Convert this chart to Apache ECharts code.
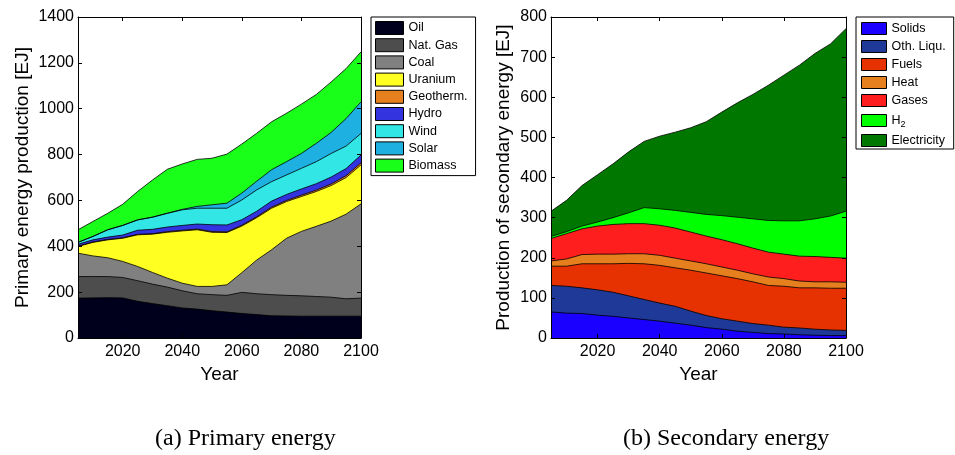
<!DOCTYPE html>
<html>
<head>
<meta charset="utf-8">
<script src="https://cdn.jsdelivr.net/npm/echarts@6/dist/echarts.min.js"></script>
<style>
  html, body { margin: 0; padding: 0; background: #fff; }
  #chart { width: 955px; height: 455px; }
</style>
</head>
<body>
<div id="chart"></div>
<script>
// Years of the scenario
const years = [2005, 2010, 2015, 2020, 2025, 2030, 2035, 2040, 2045, 2050,
               2055, 2060, 2065, 2070, 2075, 2080, 2085, 2090, 2095, 2100];
const yearTicks = [2020, 2040, 2060, 2080, 2100];

// (a) Primary energy production by source [EJ]
const oil      = [174,175,176,175,160,150,141,131,126,119,113,107,102, 97, 96, 95, 95, 95, 95, 95];
const natGas   = [ 94, 93, 92, 89, 90, 85, 81, 75, 67, 70, 73, 92, 91, 92, 90, 89, 86, 83, 76, 79];
const coal     = [102, 90, 82, 70, 62, 51, 39, 33, 32, 36, 46, 86,147,196,249,281,306,332,369,411];
const uranium  = [ 29, 59, 78,101,138,167,200,228,247,236,228,203,185,181,160,152,152,155,160,170];
const geotherm = [  2,  2,  2,  2,  2,  2,  3,  3,  3,  3,  3,  4,  4,  5,  5,  6,  6,  7,  8,  9];
const hydro    = [  8,  9, 10, 12, 18, 19, 20, 21, 22, 30, 30, 24, 24, 26, 26, 27, 28, 30, 31, 34];
const wind     = [  8, 15, 32, 42, 45, 53, 60, 68, 69, 72, 73, 86, 93, 85, 85, 90, 96,103, 98, 94];
const solar    = [  0,  0,  0,  0,  0,  0,  0,  2,  8, 15, 22, 30, 38, 52, 58, 65, 80, 92,120,138];
const biomass  = [ 55, 65, 72, 92,124,162,192,198,205,203,214,214,209,209,211,215,213,220,218,218];

// (b) Secondary energy production by carrier [EJ]
const solids      = [65,62,61,57,54,50,46,42,37,32,26,22,17,14,11,10, 8, 7, 6, 6];
const othLiqu     = [66,67,64,63,60,55,50,45,42,35,30,26,25,22,21,17,17,15,14,13];
const fuels       = [48,50,60,65,71,81,89,94,96,102,106,107,106,104,99,102,100,103,104,105];
const heat        = [13,18,23,24,24,24,25,25,24,23,23,22,21,20,21,19,17,15,16,15];
const gases       = [56,63,64,70,74,75,75,75,75,72,69,68,66,64,62,61,62,63,61,60];
const h2          = [ 5, 5, 7,10,17,27,40,41,44,49,54,60,66,73,79,83,88,94,103,117];
const electricity = [63,78,101,118,134,152,165,181,195,211,231,258,285,310,337,363,388,412,429,455];

const primaryNames   = ['Oil', 'Nat. Gas', 'Coal', 'Uranium', 'Geotherm.', 'Hydro', 'Wind', 'Solar', 'Biomass'];
const primaryValues  = [oil, natGas, coal, uranium, geotherm, hydro, wind, solar, biomass];
const primaryColors  = ['#00001c', '#4d4d4d', '#808080', '#ffff22', '#e6801e', '#3333e0', '#33e6e6', '#1eb0e0', '#1aff1a'];

const secondaryNames  = ['Solids', 'Oth. Liqu.', 'Fuels', 'Heat', 'Gases', 'H2', 'Electricity'];
const secondaryValues = [solids, othLiqu, fuels, heat, gases, h2, electricity];
const secondaryColors = ['#1a00ff', '#1f3999', '#e63200', '#e6801e', '#ff1e1e', '#00ff00', '#007800'];

const SANS = '"Liberation Sans", Arial, Helvetica, sans-serif';
const SERIF = '"Liberation Serif", "Times New Roman", serif';

// Stacked areas: each layer is drawn from its running total down to zero;
// the series list is reversed later so lower bands are painted over upper ones.
function stackSeries(names, values, colors, axisIndex) {
  const running = years.map(() => 0);
  return names.map((name, k) => {
    const data = years.map((y, i) => {
      running[i] += values[k][i];
      return [y, running[i]];
    });
    return {
      name: name,
      type: 'line',
      xAxisIndex: axisIndex,
      yAxisIndex: axisIndex,
      data: data,
      symbol: 'none',
      showSymbol: false,
      color: colors[k],
      itemStyle: { color: colors[k] },
      lineStyle: { color: '#000', width: 0.8 },
      areaStyle: { color: colors[k], opacity: 1, origin: 'start' },
      emphasis: { disabled: true },
      silent: true,
      z: 2
    };
  });
}

function xAxes(gridIndex) {
  const common = {
    type: 'value', gridIndex: gridIndex, min: 2005, max: 2100,
    splitLine: { show: false },
    axisLine: { onZero: false, lineStyle: { color: '#000', width: 1 } },
    z: 50
  };
  return [
    Object.assign({}, common, {
      position: 'bottom',
      name: 'Year', nameLocation: 'middle', nameGap: 21,
      nameTextStyle: { fontFamily: SANS, fontSize: 19, color: '#000' },
      axisTick: { inside: true, length: 4, customValues: yearTicks, lineStyle: { color: '#000' } },
      axisLabel: { customValues: yearTicks, fontFamily: SANS, fontSize: 16, color: '#000', margin: 6,
                   formatter: v => String(v) }
    }),
    Object.assign({}, common, {
      position: 'top',
      axisTick: { inside: true, length: 4, customValues: yearTicks, lineStyle: { color: '#000' } },
      axisLabel: { show: false }
    })
  ];
}

function yAxes(gridIndex, max, interval, title, gap) {
  const common = {
    type: 'value', gridIndex: gridIndex, min: 0, max: max, interval: interval,
    splitLine: { show: false },
    axisLine: { show: true, onZero: false, lineStyle: { color: '#000', width: 1 } },
    axisTick: { show: true, inside: true, length: 4, lineStyle: { color: '#000' } },
    z: 50
  };
  return [
    Object.assign({}, common, {
      position: 'left',
      name: title, nameLocation: 'middle', nameGap: gap,
      nameTextStyle: { fontFamily: SANS, fontSize: 19, color: '#000' },
      axisLabel: { fontFamily: SANS, fontSize: 16, color: '#000', margin: 4, formatter: v => String(v) }
    }),
    Object.assign({}, common, {
      position: 'right',
      axisLabel: { show: false }
    })
  ];
}

function legend(names, left, top, padding, itemWidth, itemHeight, itemGap) {
  return {
    orient: 'vertical',
    left: left, top: top,
    padding: padding,
    itemWidth: itemWidth, itemHeight: itemHeight, itemGap: itemGap,
    icon: 'rect',
    selectedMode: false,
    borderColor: '#000', borderWidth: 1, borderRadius: 0,
    backgroundColor: '#fff',
    itemStyle: { borderColor: '#000', borderWidth: 1 },
    data: names,
    formatter: function (n) { return n === 'H2' ? '{b|H}{s|2}' : n; },
    textStyle: {
      fontFamily: SANS, fontSize: 12.5, color: '#000', lineHeight: itemHeight,
      rich: {
        b: { fontFamily: SANS, fontSize: 12.5, color: '#000', lineHeight: itemHeight },
        s: { fontFamily: SANS, fontSize: 9, color: '#000', padding: [8, 0, 0, 0], lineHeight: itemHeight }
      }
    }
  };
}

const chart = echarts.init(document.getElementById('chart'), null, { renderer: 'canvas' });

const primarySeries = stackSeries(primaryNames, primaryValues, primaryColors, 0);
const secondarySeries = stackSeries(secondaryNames, secondaryValues, secondaryColors, 2);

chart.setOption({
  animation: false,
  backgroundColor: '#fff',
  title: [
    { text: '(a) Primary energy', left: 155, top: 427,
      textStyle: { fontFamily: SERIF, fontWeight: 'normal', fontSize: 24, color: '#000' }, padding: 0 },
    { text: '(b) Secondary energy', left: 623, top: 427,
      textStyle: { fontFamily: SERIF, fontWeight: 'normal', fontSize: 24, color: '#000' }, padding: 0 }
  ],
  grid: [
    { left: 78, top: 17, width: 283, height: 321, containLabel: false },
    { left: 551, top: 17, width: 295, height: 321, containLabel: false }
  ],
  xAxis: xAxes(0).concat(xAxes(1)),
  yAxis: yAxes(0, 1400, 200, 'Primary energy production [EJ]', 46)
           .concat(yAxes(1, 800, 100, 'Production of secondary energy [EJ]', 38)),
  legend: [
    legend(primaryNames, 371, 17, [4, 8, 3, 4], 28, 13, 3.2),
    legend(secondaryNames, 856, 17, [5, 8, 2, 5], 25, 12, 5)
  ],
  // upper layers are listed first so the lower bands are painted over them
  series: primarySeries.slice().reverse().concat(secondarySeries.slice().reverse())
});
</script>
</body>
</html>
